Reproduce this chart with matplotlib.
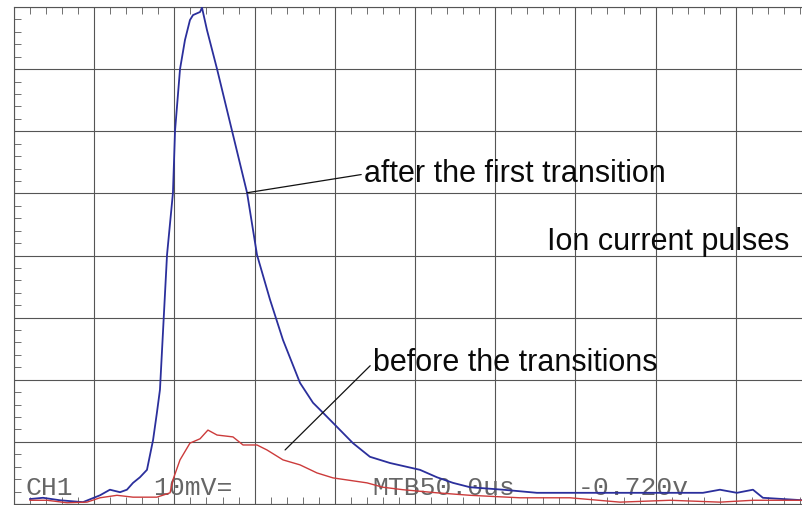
from matplotlib import pyplot as plt
from matplotlib.ticker import MultipleLocator

# time in us (50 us / div), signal in mV above the bottom grid line (10 mV / div)
blue_t = [10.0, 18.1, 28.7, 43.0, 53.6, 59.8, 66.1, 70.4, 74.2, 78.5, 82.9, 84.8, 86.7, 89.1,
          91.0, 95.4, 99.1, 100.4, 103.5, 106.6, 109.7, 111.6, 116.0, 117.2, 120.3, 126.6,
          135.9, 145.3, 151.5, 159.6, 167.7, 178.3, 186.4, 192.6, 201.4, 211.3, 221.9, 234.4,
          253.1, 263.7, 273.7, 284.3, 304.8, 326.0, 367.2, 409.0, 429.5, 440.1, 450.7, 460.7,
          466.9, 491.9]
blue_v = [0.8, 1.0, 0.6, 0.3, 1.4, 2.3, 1.9, 2.3, 3.4, 4.3, 5.5, 7.9, 10.3, 14.7,
          18.4, 40.1, 50.1, 60.1, 70.0, 74.7, 77.9, 78.7, 79.2, 79.9, 76.3, 70.0,
          60.1, 50.1, 40.1, 32.9, 26.4, 19.5, 16.3, 14.7, 12.4, 9.8, 7.6, 6.6,
          5.5, 4.3, 3.4, 2.7, 2.3, 1.8, 1.8, 1.8, 1.8, 2.3, 1.8, 2.3,
          1.0, 0.6]

red_t = [10.0, 20.6, 33.0, 45.5, 53.6, 64.2, 74.2, 89.1, 97.3, 99.1, 103.5, 109.7, 116.0,
         120.9, 126.6, 136.5, 142.8, 151.5, 157.7, 167.7, 178.3, 188.9, 198.9, 220.1, 230.0,
         242.5, 263.7, 284.3, 315.4, 346.6, 377.8, 409.0, 440.1, 460.7, 491.9]
red_v = [0.6, 0.6, 0.2, 0.3, 1.0, 1.4, 1.1, 1.1, 1.8, 3.9, 7.1, 9.8, 10.5,
         11.9, 11.1, 10.8, 9.5, 9.5, 8.7, 7.1, 6.3, 5.0, 4.2, 3.4, 2.7,
         2.3, 1.8, 1.4, 1.0, 1.0, 0.3, 0.6, 0.3, 0.6, 0.6]

# labels: text, text anchor, point on the trace
after_label = 'after the first transition'
after_text_at = (218.2, 53.1)
after_point = (145.3, 50.1)
before_label = 'before the transitions'
before_text_at = (223.8, 22.7)
before_point = (169.0, 8.7)
title_label = 'Ion current pulses'
title_at = (407.7, 42.2)

# scope readout along the bottom
readout_texts = ['CH1', '10mV=', 'MTB50.0us', '-0.720v']
readout_t = [6.9, 86.7, 223.2, 351.6]
readout_v = 1.45

fig = plt.figure(figsize=(8.03, 5.05), dpi=100)
ax = fig.add_axes([14/803, 1/505, 802/803, 497/505])
ax.set_xlim(0, 500)
ax.set_ylim(0, 80)

ax.xaxis.set_major_locator(MultipleLocator(50))
ax.yaxis.set_major_locator(MultipleLocator(10))
ax.xaxis.set_minor_locator(MultipleLocator(10))
ax.yaxis.set_minor_locator(MultipleLocator(2))
ax.grid(True, which='major', color='#555555', lw=0.8)
ax.tick_params(which='both', direction='in', labelleft=False, labelbottom=False,
               top=True, right=False, left=True, bottom=True, color='#5a5a5a')
ax.tick_params(which='major', length=0)
ax.tick_params(which='minor', length=5, width=0.6)
for s in ax.spines.values():
    s.set_color('#555555')
    s.set_linewidth(0.8)

ax.plot(blue_t, blue_v, color='#2b2f9c', lw=1.3, zorder=3)
ax.plot(red_t, red_v, color='#cc3b3b', lw=1.0, zorder=3)

for txt, t in zip(readout_texts, readout_t):
    ax.text(t, readout_v, txt, family='Liberation Mono', fontsize=19, color='#666666',
            va='baseline', ha='left', zorder=2)

font = ['Liberation Sans', 'DejaVu Sans']
arrow = dict(arrowstyle='-', color='#111111', lw=0.9, relpos=(0, 0.5), shrinkA=0, shrinkB=0)
ax.annotate(after_label, xy=after_point, xytext=after_text_at, ha='left', va='center',
            fontsize=22, family=font, color='#0a0a0a', arrowprops=arrow, zorder=4)
ax.annotate(before_label, xy=before_point, xytext=before_text_at, ha='left', va='center',
            fontsize=22, family=font, color='#0a0a0a', arrowprops=arrow, zorder=4)
ax.text(title_at[0], title_at[1], title_label, ha='center', va='center',
        fontsize=22, family=font, color='#0a0a0a', zorder=4)

plt.savefig('out.png', dpi=100)
